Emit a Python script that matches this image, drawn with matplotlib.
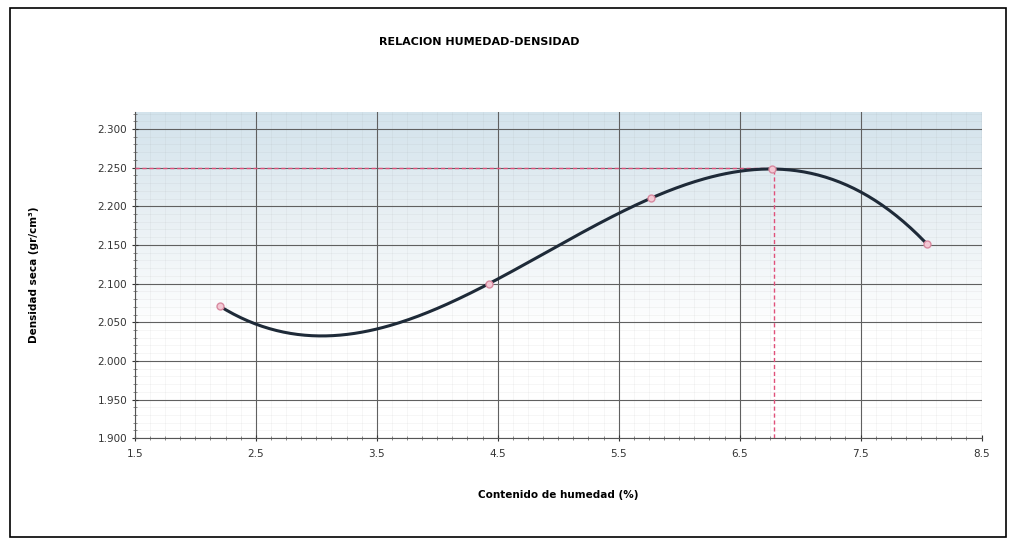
import numpy as np
import matplotlib.pyplot as plt
from matplotlib.patches import Rectangle
from matplotlib.ticker import MultipleLocator

# moisture content (%) and dry density (g/cm3)
humedad = [2.2, 4.43, 5.77, 6.77, 8.05]
densidad = [2.071, 2.100, 2.211, 2.248, 2.151]

# optimum moisture / max dry density markers
hum_optima = 6.78
dens_max = 2.250

x_ticks = [1.5, 2.5, 3.5, 4.5, 5.5, 6.5, 7.5, 8.5]
y_ticks = [1.900, 1.950, 2.000, 2.050, 2.100, 2.150, 2.200, 2.250, 2.300]


def main():
    fig = plt.figure(figsize=(10.14, 5.41), dpi=100)
    fig.patches.append(Rectangle((0.010, 0.008), 0.982, 0.978, transform=fig.transFigure,
                                 fill=False, edgecolor="black", linewidth=1.2))
    ax = fig.add_axes([0.133, 0.190, 0.835, 0.603])

    """gradient background"""
    grad = np.linspace(0, 1, 256).reshape(-1, 1)
    cmap = plt.matplotlib.colors.LinearSegmentedColormap.from_list(
        "bg", ["#ffffff", "#ffffff", "#e9f0f4", "#d3e3ec"])
    ax.imshow(grad, aspect="auto", cmap=cmap, origin="lower",
              extent=[1.5, 8.5, 1.9, 2.322], zorder=0)

    """grid"""
    ax.set_xlim(1.5, 8.5)
    ax.set_ylim(1.9, 2.322)
    ax.set_xticks(x_ticks)
    ax.set_yticks(y_ticks)
    ax.xaxis.set_minor_locator(MultipleLocator(0.125))
    ax.yaxis.set_minor_locator(MultipleLocator(0.01))
    ax.grid(which="major", color="#606060", linewidth=0.8)
    ax.grid(which="minor", color="gray", alpha=0.12, linewidth=0.4)
    ax.set_axisbelow(True)

    """fitted curve"""
    coef = np.polyfit(humedad, densidad, 3)
    xs = np.linspace(min(humedad), max(humedad), 300)
    ax.plot(xs, np.polyval(coef, xs), color="#1e2a38", linewidth=2.2, zorder=4)
    ax.plot(humedad, densidad, "o", markersize=5, markerfacecolor="#f3c8d4",
            markeredgecolor="#d88aa0", zorder=5)

    """optimum lines"""
    ax.plot([1.5, hum_optima], [dens_max, dens_max], color="#e0507a",
            linestyle=(0, (3, 2)), linewidth=1, zorder=3)
    ax.plot([hum_optima, hum_optima], [1.9, dens_max], color="#e0507a",
            linestyle=(0, (3, 2)), linewidth=1, zorder=3)

    ax.set_yticklabels([f"{v:.3f}" for v in y_ticks])
    ax.set_xticklabels([f"{v:.1f}" for v in x_ticks])
    ax.tick_params(which="both", labelsize=7.5, colors="#333333", direction="inout")
    ax.tick_params(which="major", length=4)
    ax.tick_params(axis="x", which="major", pad=6)
    ax.tick_params(which="minor", length=3, color="#777777")
    for side in ["top", "right"]:
        ax.spines[side].set_visible(False)
    ax.spines["left"].set_color("#555555")
    ax.spines["bottom"].set_color("#555555")

    fig.text(0.473, 0.922, "RELACION HUMEDAD-DENSIDAD", fontsize=8, fontweight="bold",
             ha="center", va="center")
    ax.set_xlabel("Contenido de humedad (%)", fontsize=7.5, fontweight="bold", labelpad=22)
    ax.set_ylabel("Densidad seca (gr/cm³)", fontsize=7.5, fontweight="bold", labelpad=42)

    fig.savefig("out.png", dpi=100)


if __name__ == "__main__":
    main()
